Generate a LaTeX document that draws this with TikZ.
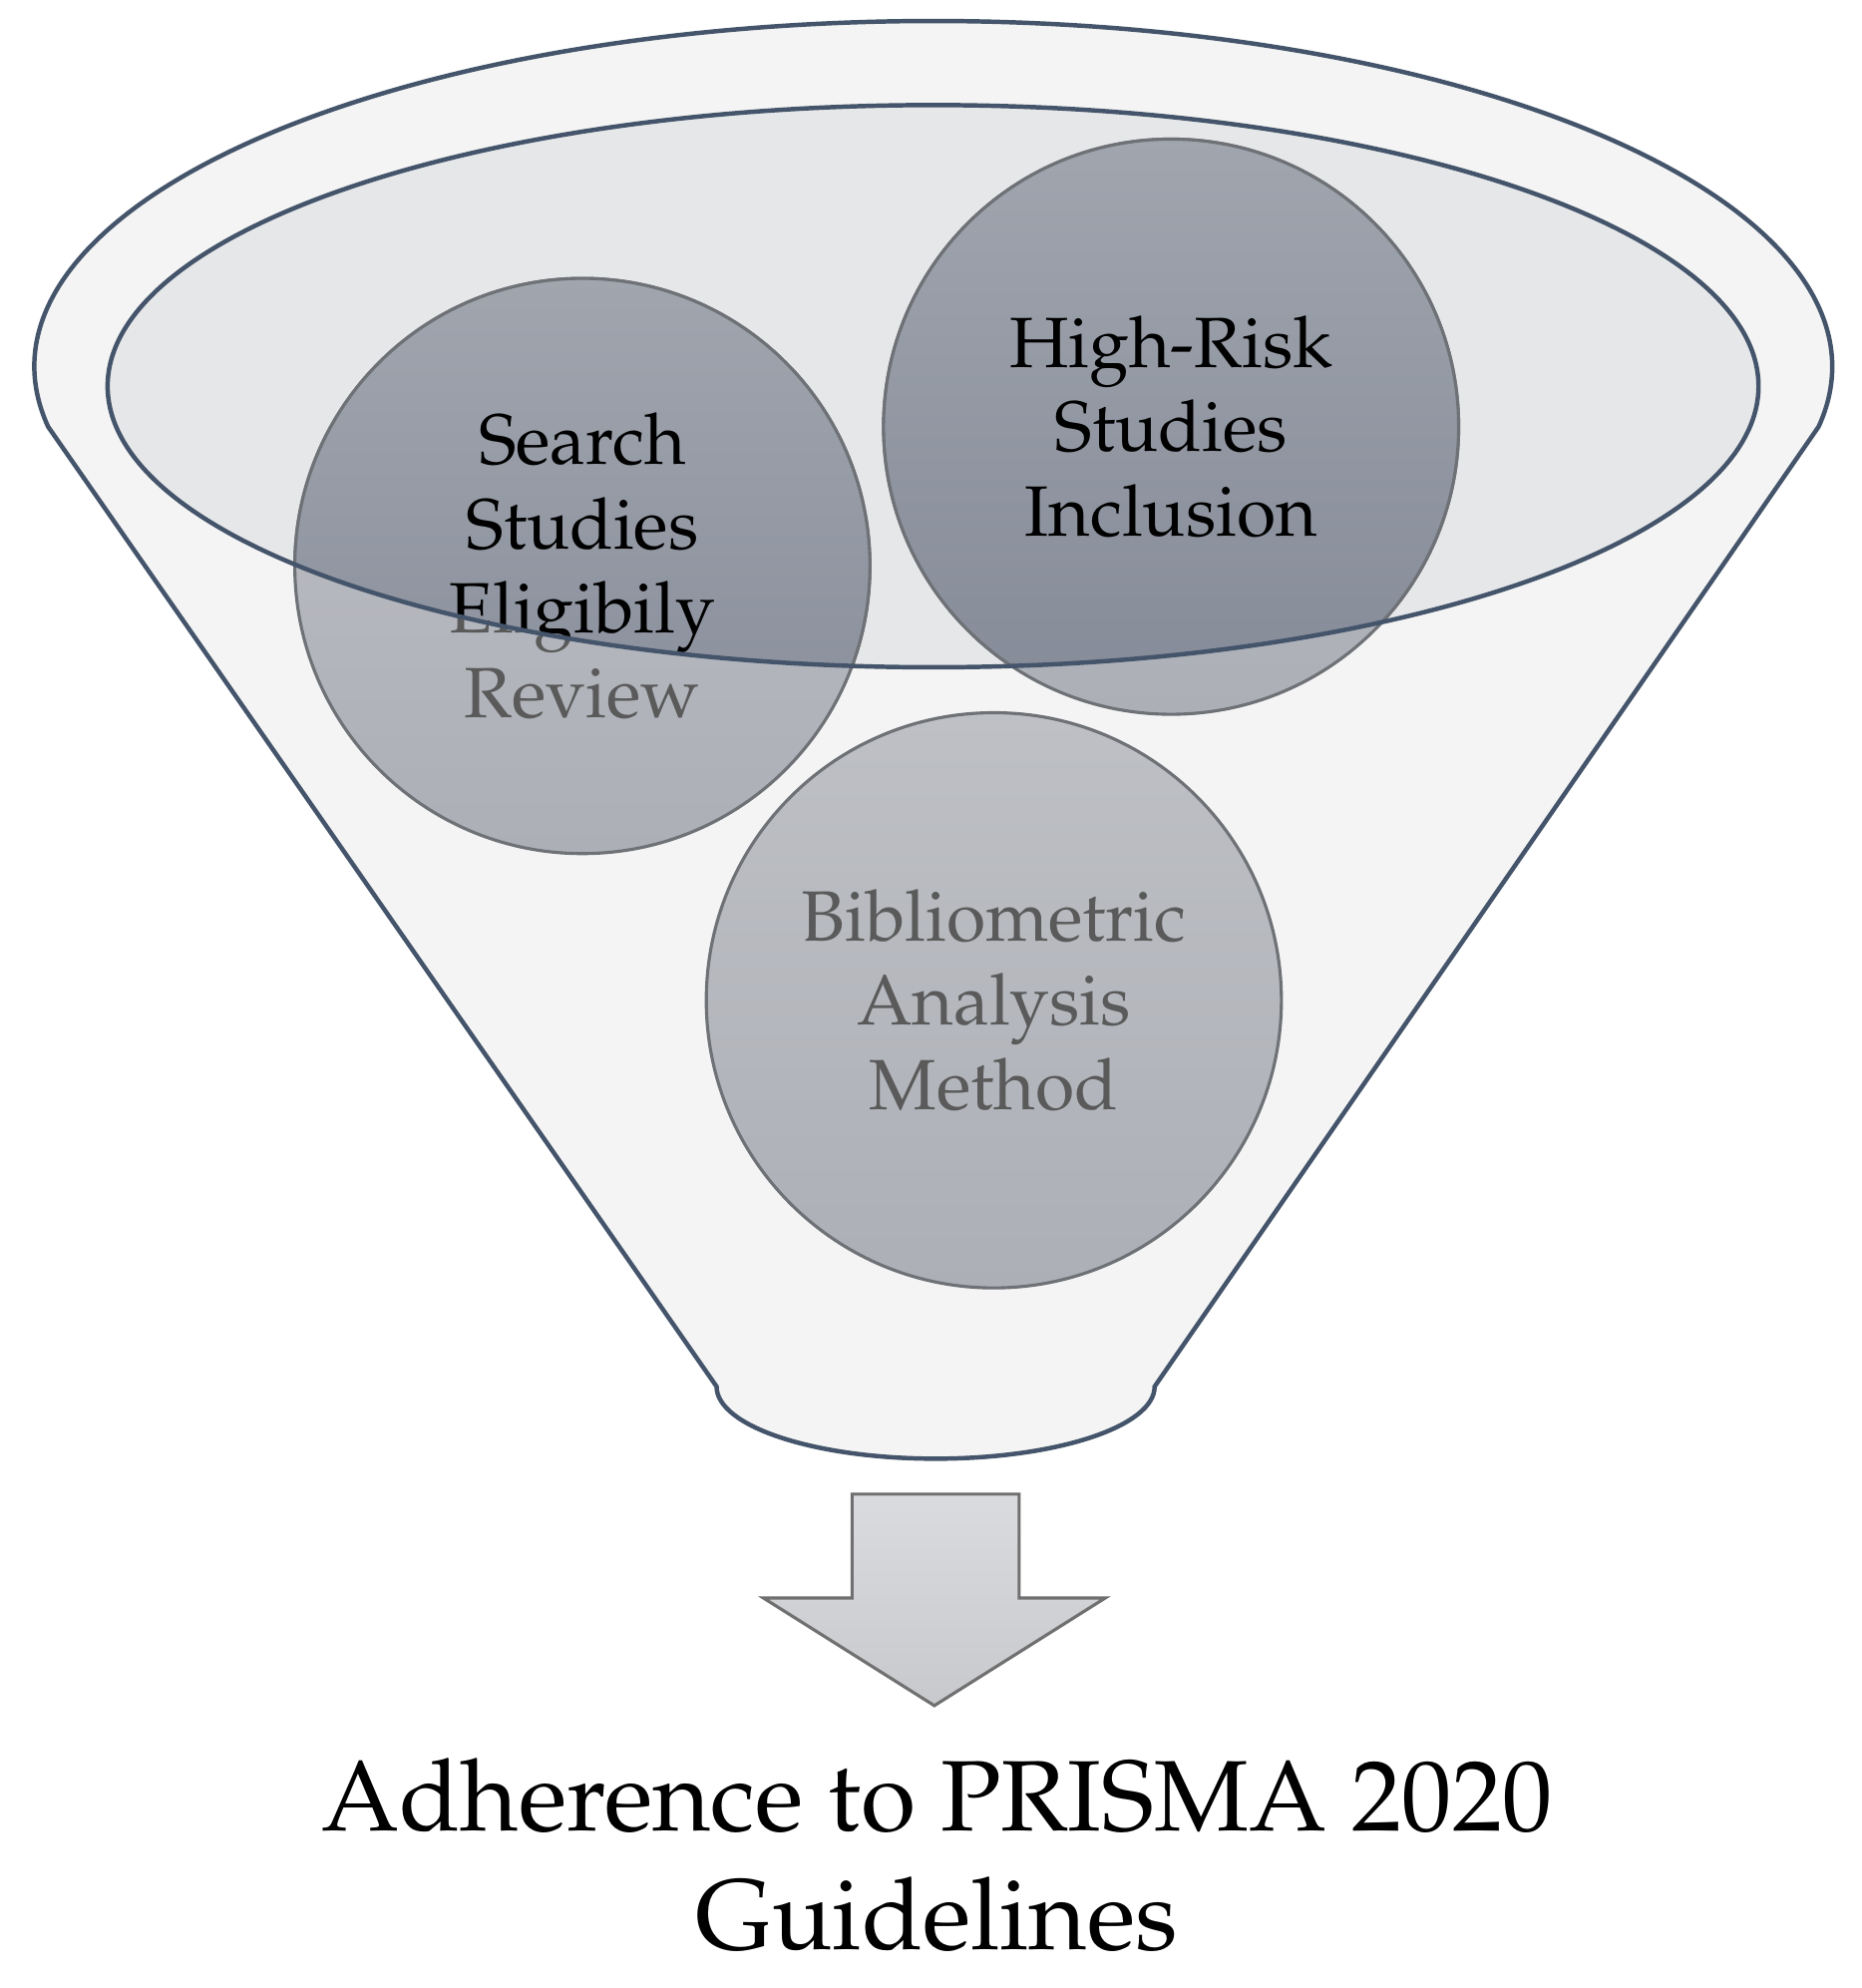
\documentclass[tikz,border=0pt]{standalone}
\usepackage[T1]{fontenc}
\usepackage{palatino}
\usetikzlibrary{positioning}
\definecolor{rimline}{HTML}{44546A}
\definecolor{funnelfill}{HTML}{F4F4F4}
\definecolor{mouthfill}{HTML}{E6E7E9}
\definecolor{ballline}{HTML}{6E7176}
\definecolor{balltext}{HTML}{5A5A5A}
\definecolor{balltop}{HTML}{BEC0C5}
\definecolor{ballbottom}{HTML}{ACAFB6}
\definecolor{deeptop}{HTML}{A0A5AE}
\definecolor{deepbottom}{HTML}{848A97}
\definecolor{arrowtop}{HTML}{DADBDE}
\definecolor{arrowbottom}{HTML}{C8C9CD}
\definecolor{arrowline}{HTML}{707070}
\begin{document}
\begin{tikzpicture}[x=0.01cm,y=0.01cm,
                        funnel/.style={draw=rimline,line width=1pt,fill=funnelfill},
                        mouth/.style={draw=rimline,line width=1pt},
                        stage/.style={circle,minimum size=4.54cm,inner sep=0pt,draw=ballline,line width=0.7pt,
                                      align=center,text=balltext,font=\fontsize{16}{19}\selectfont,
                                      top color=balltop,bottom color=ballbottom},
                        deep/.style={top color=deeptop,bottom color=deepbottom,text=black},
                        goal/.style={align=center,font=\fontsize{22.5}{26.7}\selectfont}
                       ]
      \useasboundingbox (0,0) rectangle (1470,1570);
      % funnel body
      \draw[funnel] (38,1233) arc[start angle=190,end angle=-10,x radius=710,y radius=273]
            -- (912,475) arc[start angle=0,end angle=-180,x radius=173,y radius=57] -- cycle;
      \fill[mouthfill] (737,1265) ellipse[x radius=652,y radius=222];
      % the three stages
      \node[stage] (search) at (460,1123) {Search\\Studies\\Eligibily\\Review};
      \node[stage] (risk) at (925,1233) {High-Risk\\Studies\\Inclusion};
      \node[stage] (biblio) at (785,780) {Bibliometric\\Analysis\\Method};
      \begin{scope}
        \clip (737,1265) ellipse[x radius=652,y radius=222];
        \node[stage,deep] (search top) at (search) {Search\\Studies\\Eligibily\\Review};
        \node[stage,deep] (risk top) at (risk) {High-Risk\\Studies\\Inclusion};
      \end{scope}
      \draw[mouth] (737,1265) ellipse[x radius=652,y radius=222];
      % arrow to the result
      \draw[draw=arrowline,line width=0.7pt,top color=arrowtop,bottom color=arrowbottom]
            (673,390) -- (805,390) -- (805,308) -- (873,308) -- (738,223) -- (603,308) -- (673,308) -- cycle;
      \node[goal] (prisma) at (740,105) {Adherence to PRISMA 2020\\Guidelines};
 \end{tikzpicture}
\end{document}
